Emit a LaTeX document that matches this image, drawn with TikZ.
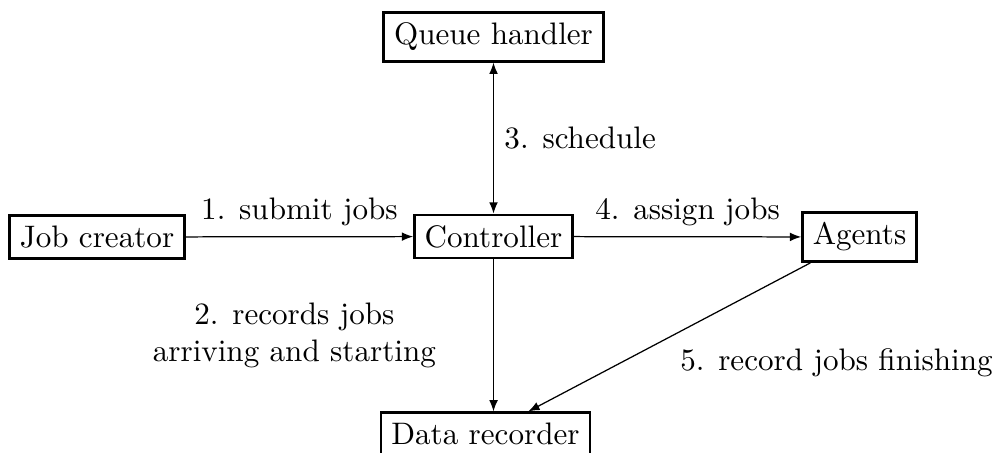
\documentclass[tikz,border=0pt]{standalone}
\usetikzlibrary{arrows.meta}
\tikzset{
  block/.style={draw, thick, inner sep=0.3333em},
  flow/.style={-{Latex[length=3.6pt,width=2.8pt]}, thin},
  flow2/.style={{Latex[length=3.6pt,width=2.8pt]}-{Latex[length=3.6pt,width=2.8pt]}, thin},
}
\begin{document}
\begin{tikzpicture}[x=0.32154pt, y=-0.32154pt]
  \useasboundingbox (0,0) rectangle (1000,452);

  % components
  \node[block] (queue)  at (493.5, 37)  {Queue handler};
  \node[block] (creator) at (97, 237)   {Job creator};
  \node[block] (ctrl)   at (493.5, 236.5) {Controller};
  \node[block] (agents) at (859.5, 237) {Agents};
  \node[block] (data)   at (485.5, 434) {Data recorder};

  % job flow
  \draw[flow] (creator) -- node[above] {1. submit jobs} (ctrl);
  \draw[flow] (ctrl.south) -- node[left, xshift=-15pt, align=center]
      {2. records jobs\\arriving and starting} (ctrl.south |- data.north);
  \draw[flow2] (queue) -- node[right] {3. schedule} (ctrl);
  \draw[flow] (ctrl) -- node[above] {4. assign jobs} (agents);
  \draw[flow] (agents) -- node[below right] {5. record jobs finishing} (data);
\end{tikzpicture}
\end{document}
